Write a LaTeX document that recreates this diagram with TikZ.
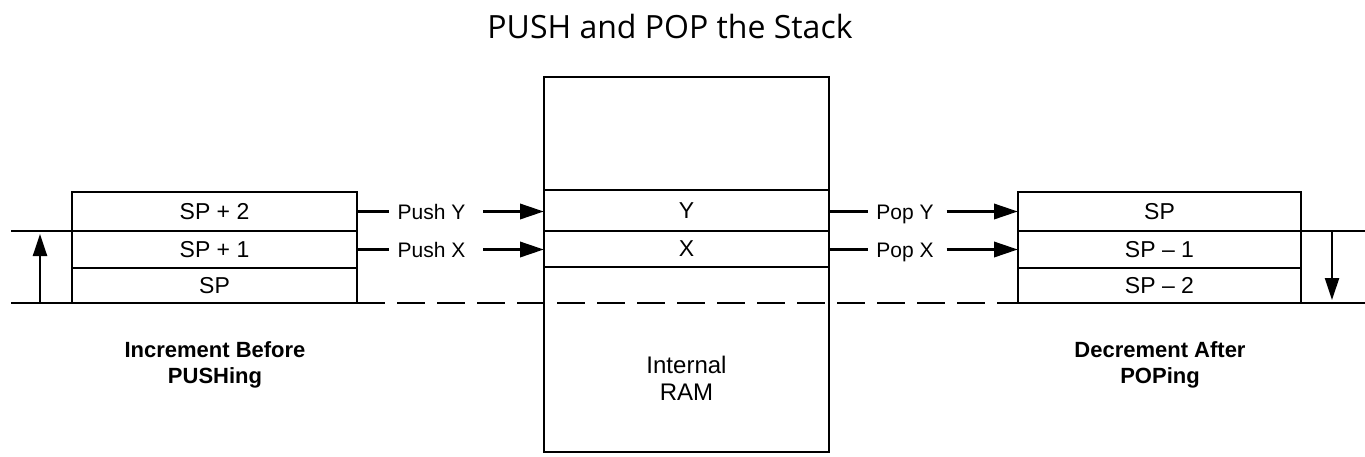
\documentclass[tikz,border=0pt]{standalone}
\usepackage{fontspec}
\setmainfont{Liberation Sans}
\newfontfamily\titlefont{Open Sans}
\usetikzlibrary{arrows.meta}
\begin{document}
\begin{tikzpicture}[x=1pt,y=-1pt,
  line width=2.2pt,
  cellbox/.style={draw,line width=2.2pt,inner sep=0pt,outer sep=0pt,font=\fontsize{23}{26}\selectfont},
  oplabel/.style={inner sep=0pt,anchor=base,font=\fontsize{21}{24}\selectfont},
  bigarrow/.style={line width=3.5pt,-{Triangle[length=24pt,width=15pt]}},
  sparrow/.style={line width=2.4pt,-{Triangle[length=22pt,width=14pt]}},
  boldlabel/.style={align=center,inner sep=0pt,font=\bfseries\fontsize{22}{26}\selectfont},
  ramlabel/.style={align=center,inner sep=0pt,font=\fontsize{24}{27}\selectfont},
  dashline/.style={dash pattern=on 28pt off 12pt}
]
\useasboundingbox (0,0) rectangle (1365,456);

% title
\node[anchor=base,inner sep=0pt,font=\titlefont\fontsize{32}{36}\selectfont] (title) at (670,38) {PUSH and POP the Stack};

% left stack
\node[cellbox,minimum width=285pt,minimum height=39pt] (l2) at (214.5,211.5) {SP + 2};
\node[cellbox,minimum width=285pt,minimum height=37pt] (l1) at (214.5,249.5) {SP + 1};
\node[cellbox,minimum width=285pt,minimum height=35pt] (l0) at (214.5,285.5) {SP};

% internal RAM
\node[cellbox,minimum width=285pt,minimum height=113pt] (ramtop) at (686.5,133.5) {};
\node[cellbox,minimum width=285pt,minimum height=41pt] (ramY) at (686.5,210.5) {Y};
\node[cellbox,minimum width=285pt,minimum height=36pt] (ramX) at (686.5,249) {X};
\node[cellbox,minimum width=285pt,minimum height=185pt] (ramlow) at (686.5,359.5) {};
\node[ramlabel] (ramtext) at (686.5,378) {Internal\\RAM};

% right stack
\node[cellbox,minimum width=283pt,minimum height=39pt] (r0) at (1159.5,211.5) {SP};
\node[cellbox,minimum width=283pt,minimum height=37pt] (r1) at (1159.5,249.5) {SP -- 1};
\node[cellbox,minimum width=283pt,minimum height=35pt] (r2) at (1159.5,285.5) {SP -- 2};

% reference lines
\coordinate (lefttop) at (11,231);
\coordinate (leftbot) at (11,303);
\coordinate (righttop) at (1365,231);
\coordinate (rightbot) at (1365,303);
\draw (lefttop) -- (l1.north west);
\draw (leftbot) -- (l0.south west);
\draw[dashline] (l0.south east) -- (r2.south west);
\draw (r1.north east) -- (righttop);
\draw (r2.south east) -- (rightbot);

% direction arrows
\coordinate (upS) at (40,303);
\coordinate (upE) at (40,234);
\draw[sparrow] (upS) -- (upE);
\coordinate (dnS) at (1332,231);
\coordinate (dnE) at (1332,300);
\draw[sparrow] (dnS) -- (dnE);

% push labels
\node[oplabel] (pushY) at (431.5,219) {Push Y};
\node[oplabel] (pushX) at (431.5,257) {Push X};
\draw (l2.east) -- ([xshift=-8pt]pushY.west |- l2.east);
\draw[bigarrow] ([xshift=17pt]pushY.east |- l2.east) -- (l2.east -| ramY.west);
\draw (l1.east) -- ([xshift=-8pt]pushX.west |- l1.east);
\draw[bigarrow] ([xshift=17pt]pushX.east |- l1.east) -- (l1.east -| ramX.west);

% pop labels
\node[oplabel] (popY) at (905,219) {Pop Y};
\node[oplabel] (popX) at (905,257) {Pop X};
\draw (r0.west -| ramY.east) -- ([xshift=-7pt]popY.west |- r0.west);
\draw[bigarrow] ([xshift=12pt]popY.east |- r0.west) -- (r0.west);
\draw (r1.west -| ramX.east) -- ([xshift=-7pt]popX.west |- r1.west);
\draw[bigarrow] ([xshift=12pt]popX.east |- r1.west) -- (r1.west);

% captions
\node[boldlabel] (inclabel) at (215,364.5) {Increment Before\\PUSHing};
\node[boldlabel] (declabel) at (1160,364.5) {Decrement After\\POPing};
\end{tikzpicture}
\end{document}
